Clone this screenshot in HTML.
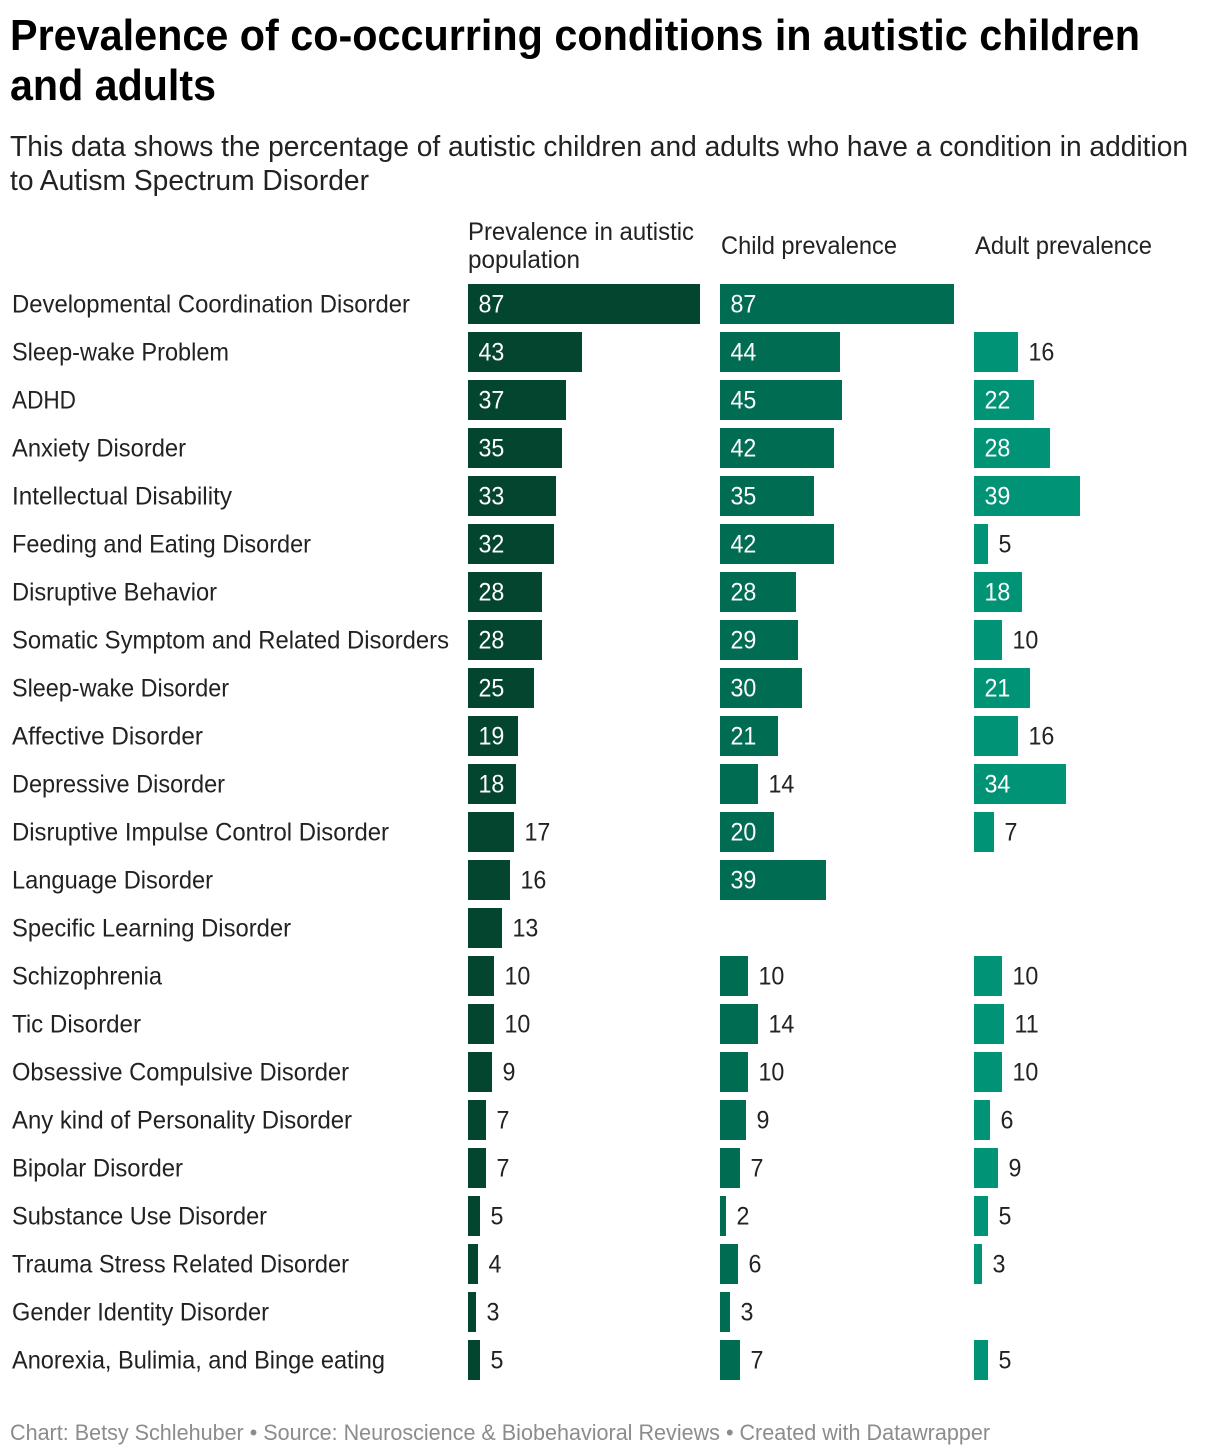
<!DOCTYPE html>
<html lang="en">
<head>
<meta charset="utf-8">
<title>Prevalence of co-occurring conditions in autistic children and adults</title>
<style>
html,body{margin:0;padding:0;background:#fff;}
svg{display:block;font-family:"Liberation Sans",sans-serif;}
</style>
</head>
<body>
<svg id="chart" width="1220" height="1456" viewBox="0 0 1220 1456" xmlns="http://www.w3.org/2000/svg">
  <text x="10" y="50" font-size="44" font-weight="700" fill="#000" textLength="1130" lengthAdjust="spacingAndGlyphs">Prevalence of co-occurring conditions in autistic children</text>
  <text x="10" y="100" font-size="44" font-weight="700" fill="#000" textLength="206" lengthAdjust="spacingAndGlyphs">and adults</text>
  <text x="10" y="156" font-size="29" fill="#222" textLength="1178" lengthAdjust="spacingAndGlyphs">This data shows the percentage of autistic children and adults who have a condition in addition</text>
  <text x="10" y="190" font-size="29" fill="#222" textLength="359" lengthAdjust="spacingAndGlyphs">to Autism Spectrum Disorder</text>
  <text x="468" y="240" font-size="25" fill="#222" textLength="226" lengthAdjust="spacingAndGlyphs">Prevalence in autistic</text>
  <text x="468" y="268" font-size="25" fill="#222" textLength="112" lengthAdjust="spacingAndGlyphs">population</text>
  <text x="721" y="254" font-size="25" fill="#222" textLength="176" lengthAdjust="spacingAndGlyphs">Child prevalence</text>
  <text x="975" y="254" font-size="25" fill="#222" textLength="177" lengthAdjust="spacingAndGlyphs">Adult prevalence</text>
  <g id="rows"></g>
  <text x="10" y="1440" font-size="22.5" fill="#8c8c8c" textLength="980" lengthAdjust="spacingAndGlyphs">Chart: Betsy Schlehuber • Source: Neuroscience &amp; Biobehavioral Reviews • Created with Datawrapper</text>
</svg>
<script>
const categories = ["Developmental Coordination Disorder","Sleep-wake Problem","ADHD","Anxiety Disorder","Intellectual Disability","Feeding and Eating Disorder","Disruptive Behavior","Somatic Symptom and Related Disorders","Sleep-wake Disorder","Affective Disorder","Depressive Disorder","Disruptive Impulse Control Disorder","Language Disorder","Specific Learning Disorder","Schizophrenia","Tic Disorder","Obsessive Compulsive Disorder","Any kind of Personality Disorder","Bipolar Disorder","Substance Use Disorder","Trauma Stress Related Disorder","Gender Identity Disorder","Anorexia, Bulimia, and Binge eating"];
const overallValues = [87,43,37,35,33,32,28,28,25,19,18,17,16,13,10,10,9,7,7,4.6,4,3,4.6];
const childValues = [86.6,44,45,42,35,42,28,29,30,21.4,14,20,39,null,10,14,10,9.4,7.4,2,6.4,3.4,7.4];
const adultValues = [null,16,22,28,39,5,18,10,21,16,34,7.4,null,null,10,11,10,6,9,5,3,null,5];

const SVG_NS = "http://www.w3.org/2000/svg";
const rowsGroup = document.getElementById("rows");
const rowTop = 284, rowStep = 48, barHeight = 40;
const valueSquash = 0.93;
// Rendered text widths used only to fit the fallback font to the original typeface.
const labelFitWidths = [398,217,64,174,220,299,205,437,217,191,213,377,201,279,150,129,337,340,171,255,337,257,373];

function yScale(i) { return rowTop + i * rowStep; }
function xScaleOverall(v) { return 2 * Math.round(v * 2.667 / 2); }
function xScaleSplit(v) { return 2 * Math.round(v * 2.71 / 2); }

function addValueText(str, x, y, fill, name) {
  const t = document.createElementNS(SVG_NS, "text");
  
  
  t.setAttribute("transform", "translate(" + x + " " + y + ") scale(" + valueSquash + " 1)");
  t.setAttribute("font-size", "25");
  t.setAttribute("fill", fill);
  t.textContent = str;
  rowsGroup.appendChild(t);
}

function drawSeries(values, x0, scale, color, seriesName) {
  values.forEach(function (v, i) {
    if (v === null) return;
    const w = scale(v);
    const y = yScale(i);
    const r = document.createElementNS(SVG_NS, "rect");
    
    
    r.setAttribute("x", x0);
    r.setAttribute("y", y);
    r.setAttribute("width", w);
    r.setAttribute("height", barHeight);
    r.setAttribute("fill", color);
    rowsGroup.appendChild(r);
    const inside = w >= 47;
    addValueText(String(Math.round(v)), x0 + (inside ? 10.5 : w + 10.5), y + 28.5, inside ? "#fff" : "#222", "value-label-" + seriesName);
  });
}

categories.forEach(function (c, i) {
  const t = document.createElementNS(SVG_NS, "text");
  
  
  t.setAttribute("x", 12);
  t.setAttribute("y", yScale(i) + 28.5);
  t.setAttribute("font-size", "25");
  t.setAttribute("fill", "#222");
  t.setAttribute("textLength", labelFitWidths[i]);
  t.setAttribute("lengthAdjust", "spacingAndGlyphs");
  t.textContent = c;
  rowsGroup.appendChild(t);
});
drawSeries(overallValues, 468, xScaleOverall, "#03452f", "overall");
drawSeries(childValues, 720, xScaleSplit, "#006c52", "child");
drawSeries(adultValues, 974, xScaleSplit, "#009376", "adult");
</script>
</body>
</html>
